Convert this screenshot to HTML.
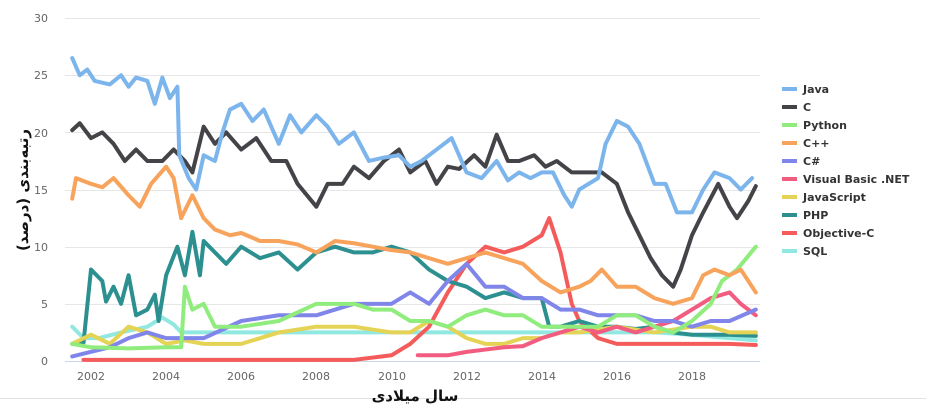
<!DOCTYPE html><html><head><meta charset="utf-8"><style>
body{margin:0;background:#fff;width:926px;height:412px;overflow:hidden;font-family:"DejaVu Sans","Liberation Sans",sans-serif}
svg text{font-family:"DejaVu Sans","Liberation Sans",sans-serif}
</style></head><body>
<svg width="926" height="412" xmlns="http://www.w3.org/2000/svg">
<g stroke="#e6e6e6" stroke-width="1">
<line x1="65" x2="760" y1="18.5" y2="18.5"/><line x1="65" x2="760" y1="75.5" y2="75.5"/><line x1="65" x2="760" y1="132.5" y2="132.5"/><line x1="65" x2="760" y1="190.5" y2="190.5"/><line x1="65" x2="760" y1="247.5" y2="247.5"/><line x1="65" x2="760" y1="304.5" y2="304.5"/>
</g>
<line x1="65" x2="760" y1="361.5" y2="361.5" stroke="#ccd6eb"/>
<line x1="0" x2="926" y1="398.5" y2="398.5" stroke="#e0e0e0"/>
<g fill="#666" font-size="11" text-anchor="end">
<text x="48" y="22">30</text><text x="48" y="79">25</text><text x="48" y="137">20</text><text x="48" y="194">15</text><text x="48" y="251">10</text><text x="48" y="308">5</text><text x="48" y="365">0</text>
</g>
<g fill="#666" font-size="11" text-anchor="middle">
<text x="91" y="380">2002</text><text x="166" y="380">2004</text><text x="241" y="380">2006</text><text x="316" y="380">2008</text><text x="392" y="380">2010</text><text x="467" y="380">2012</text><text x="542" y="380">2014</text><text x="617" y="380">2016</text><text x="692" y="380">2018</text>
</g>
<text x="415" y="401" font-size="15" font-weight="bold" text-anchor="middle" fill="#111">سال میلادی</text>
<text transform="translate(28,190) rotate(-90)" font-size="15" font-weight="bold" text-anchor="middle" fill="#111">رتبه‌بندی (درصد)</text>
<g transform="translate(91,361) scale(37.56,-11.43)" fill="none" stroke-width="4" stroke-linejoin="round" stroke-linecap="round">
<polyline vector-effect="non-scaling-stroke" stroke="#91e8e1" points="-0.5,3 -0.2,2 0.2,2 0.8,2.5 1.5,3 1.9,3.8 2.2,3.2 2.4,2.5 8,2.5 15,2.5 16,2.3 17,2 17.7,1.8"/>
<polyline vector-effect="non-scaling-stroke" stroke="#f45b5b" points="-0.2,0.1 7,0.1 7.5,0.3 8,0.5 8.5,1.5 9,3 9.5,6 10,8.5 10.5,10 11,9.5 11.5,10 12,11 12.2,12.5 12.5,9.5 12.8,5 13,3.5 13.5,2 14,1.5 14.5,1.5 15,1.5 16,1.5 17,1.5 17.7,1.4"/>
<polyline vector-effect="non-scaling-stroke" stroke="#2b908f" points="-0.5,1.5 -0.2,1.6 0,8 0.3,7 0.4,5.2 0.6,6.5 0.8,5 1,7.5 1.2,4 1.5,4.5 1.7,5.8 1.8,3.5 2,7.5 2.3,10 2.5,7.5 2.7,11.3 2.9,7.5 3,10.5 3.3,9.5 3.6,8.5 4,10 4.5,9 5,9.5 5.5,8 6,9.5 6.5,10 7,9.5 7.5,9.5 8,10 8.5,9.5 9,8 9.5,7 10,6.5 10.5,5.5 11,6 11.5,5.5 12,5.5 12.2,3 12.5,3 13,3.5 13.5,3 14,3 14.5,2.8 15,3 15.5,2.5 16,2.3 16.5,2.3 17,2.3 17.7,2.2"/>
<polyline vector-effect="non-scaling-stroke" stroke="#e4d354" points="-0.5,1.5 0,2.3 0.5,1.5 1,3 1.5,2.5 2,1.5 2.5,1.8 3,1.5 4,1.5 5,2.5 6,3 7,3 8,2.5 8.5,2.5 9,3.5 9.5,3 10,2 10.5,1.5 11,1.5 11.5,2 12,2 12.5,2.5 13,2.5 14,3 15,2.5 16,3 16.5,3 17,2.5 17.7,2.5"/>
<polyline vector-effect="non-scaling-stroke" stroke="#f15c80" points="8.7,0.5 9.5,0.5 10,0.8 10.5,1 11,1.2 11.5,1.3 12,2 12.5,2.5 13,3 13.5,2.5 14,3 14.5,2.5 15,3 15.5,3.5 16,4.5 16.5,5.5 17,6 17.3,5 17.7,4"/>
<polyline vector-effect="non-scaling-stroke" stroke="#8085e9" points="-0.5,0.4 0,0.8 0.5,1.2 1,2 1.5,2.5 2,2 3,2 4,3.5 5,4 6,4 7,5 7.5,5 8,5 8.5,6 9,5 9.5,7 10,8.5 10.5,6.5 11,6.5 11.5,5.5 12,5.5 12.5,4.5 13,4.5 13.5,4 14,4 14.5,4 15,3.5 15.5,3.5 16,3 16.5,3.5 17,3.5 17.7,4.5"/>
<polyline vector-effect="non-scaling-stroke" stroke="#90ed7d" points="-0.5,1.5 0,1.2 1,1.1 2,1.2 2.4,1.2 2.5,6.5 2.7,4.5 3,5 3.3,3 4,3 5,3.5 6,5 6.5,5 7,5 7.5,4.5 8,4.5 8.5,3.5 9,3.5 9.5,3 10,4 10.5,4.5 11,4 11.5,4 12,3 13,3 13.5,3 14,4 14.5,4 15,3 15.5,2.5 16,3.5 16.5,5 16.8,7 17.2,8 17.7,10"/>
<polyline vector-effect="non-scaling-stroke" stroke="#f7a35c" points="-0.5,14.2 -0.4,16 0,15.5 0.3,15.2 0.6,16 1,14.5 1.3,13.5 1.6,15.5 2,17 2.2,16 2.4,12.5 2.7,14.5 3,12.5 3.3,11.5 3.7,11 4,11.2 4.5,10.5 5,10.5 5.5,10.2 6,9.5 6.5,10.5 7,10.3 7.5,10 8,9.7 8.5,9.5 9,9 9.5,8.5 10,9 10.5,9.5 11,9 11.5,8.5 12,7 12.5,6 13,6.5 13.3,7 13.6,8 14,6.5 14.5,6.5 15,5.5 15.5,5 16,5.5 16.3,7.5 16.6,8 17,7.5 17.3,8 17.7,6"/>
<polyline vector-effect="non-scaling-stroke" stroke="#434348" points="-0.5,20.2 -0.3,20.8 0,19.5 0.3,20 0.6,19 0.9,17.5 1.2,18.5 1.5,17.5 1.9,17.5 2.2,18.5 2.5,17.5 2.7,16.5 3,20.5 3.3,19 3.6,20 4,18.5 4.4,19.5 4.8,17.5 5.2,17.5 5.5,15.5 6,13.5 6.3,15.5 6.7,15.5 7,17 7.4,16 7.8,17.5 8.2,18.5 8.5,16.5 8.9,17.5 9.2,15.5 9.5,17 9.8,16.8 10.2,18 10.5,17 10.8,19.8 11.1,17.5 11.4,17.5 11.8,18 12.1,17 12.4,17.5 12.8,16.5 13.2,16.5 13.6,16.5 14,15.5 14.3,13 14.6,11 14.9,9 15.2,7.5 15.5,6.5 15.7,8 16,11 16.3,13 16.7,15.5 17,13.5 17.2,12.5 17.5,14 17.7,15.3"/>
<polyline vector-effect="non-scaling-stroke" stroke="#7cb5ec" points="-0.5,26.5 -0.3,25 -0.1,25.5 0.1,24.5 0.5,24.2 0.8,25 1,24 1.2,24.8 1.5,24.5 1.7,22.5 1.9,24.8 2.1,23 2.3,24 2.35,18 2.6,16 2.8,15 3,18 3.3,17.5 3.5,20 3.7,22 4,22.5 4.3,21 4.6,22 5,19 5.3,21.5 5.6,20 6,21.5 6.3,20.5 6.6,19 7,20 7.4,17.5 7.8,17.8 8.2,18 8.5,17 8.8,17.5 9.2,18.5 9.6,19.5 10,16.5 10.4,16 10.8,17.5 11.1,15.8 11.4,16.5 11.7,16 12,16.5 12.3,16.5 12.6,14.5 12.8,13.5 13,15 13.5,16 13.7,19 14,21 14.3,20.5 14.6,19 15,15.5 15.3,15.5 15.6,13 16,13 16.3,15 16.6,16.5 17,16 17.3,15 17.6,16"/>
</g>
<g font-size="11" font-weight="bold" fill="#333">
<rect x="782" y="87" width="15" height="4" fill="#7cb5ec"/><text x="803" y="93">Java</text>
<rect x="782" y="105" width="15" height="4" fill="#434348"/><text x="803" y="111">C</text>
<rect x="782" y="123" width="15" height="4" fill="#90ed7d"/><text x="803" y="129">Python</text>
<rect x="782" y="141" width="15" height="4" fill="#f7a35c"/><text x="803" y="147">C++</text>
<rect x="782" y="159" width="15" height="4" fill="#8085e9"/><text x="803" y="165">C#</text>
<rect x="782" y="177" width="15" height="4" fill="#f15c80"/><text x="803" y="183">Visual Basic .NET</text>
<rect x="782" y="195" width="15" height="4" fill="#e4d354"/><text x="803" y="201">JavaScript</text>
<rect x="782" y="213" width="15" height="4" fill="#2b908f"/><text x="803" y="219">PHP</text>
<rect x="782" y="231" width="15" height="4" fill="#f45b5b"/><text x="803" y="237">Objective-C</text>
<rect x="782" y="249" width="15" height="4" fill="#91e8e1"/><text x="803" y="255">SQL</text>
</g>
</svg>
</body></html>
